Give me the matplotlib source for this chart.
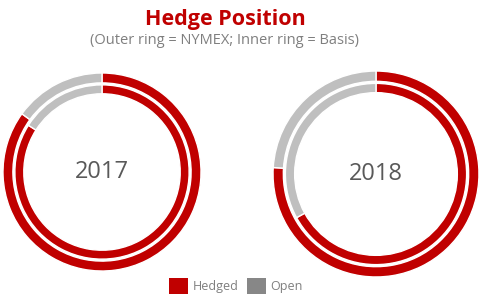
import matplotlib.pyplot as plt
from matplotlib.patches import Patch

#hedge share per ring (percent)
years=['2017','2018']
nymex_hedged=[85,76]
basis_hedged=[84,67]
labels=['Hedged','Open']

red='#C00000'
ring_gray='#BFBFBF'
legend_gray='#878787'

plt.rcParams['font.family']=['Open Sans','DejaVu Sans']

fig=plt.figure(figsize=(4.82,3.08),dpi=100)

#axes boxes in figure fractions, one per year
boxes=[[2/482,36/308,200/482,200/308],[272/482,30/308,208/482,208/308]]

for i in range(len(years)):
    ax=fig.add_axes(boxes[i])
    outer=[nymex_hedged[i],100-nymex_hedged[i]]
    inner=[basis_hedged[i],100-basis_hedged[i]]
    ax.pie(outer,radius=1.0,colors=[red,ring_gray],startangle=90,counterclock=False,
           wedgeprops=dict(width=0.1,edgecolor='white',linewidth=1))
    ax.pie(inner,radius=0.88,colors=[red,ring_gray],startangle=90,counterclock=False,
           wedgeprops=dict(width=0.09,edgecolor='white',linewidth=1))
    ax.text(0,0,years[i],ha='center',va='center',fontsize=17,color='#595959')
    ax.set_xlim(-1.01,1.01)
    ax.set_ylim(-1.01,1.01)
    ax.set_aspect('equal')
    ax.axis('off')

fig.text(225/482,1-19/308,'Hedge Position',ha='center',va='center',fontsize=15.5,
         fontweight='bold',color=red)
fig.text(225/482,1-40/308,'(Outer ring = NYMEX; Inner ring = Basis)',ha='center',va='center',
         fontsize=10.5,color='#7F7F7F')

handles=[Patch(facecolor=red),Patch(facecolor=legend_gray)]
fig.legend(handles,labels,loc='center',bbox_to_anchor=(236/482,1-286/308),ncol=2,frameon=False,
           fontsize=9,labelcolor='#7F7F7F',handlelength=1.5,handleheight=1.5,
           handletextpad=0.35,columnspacing=0.7)

fig.savefig('out.png',dpi=100)
